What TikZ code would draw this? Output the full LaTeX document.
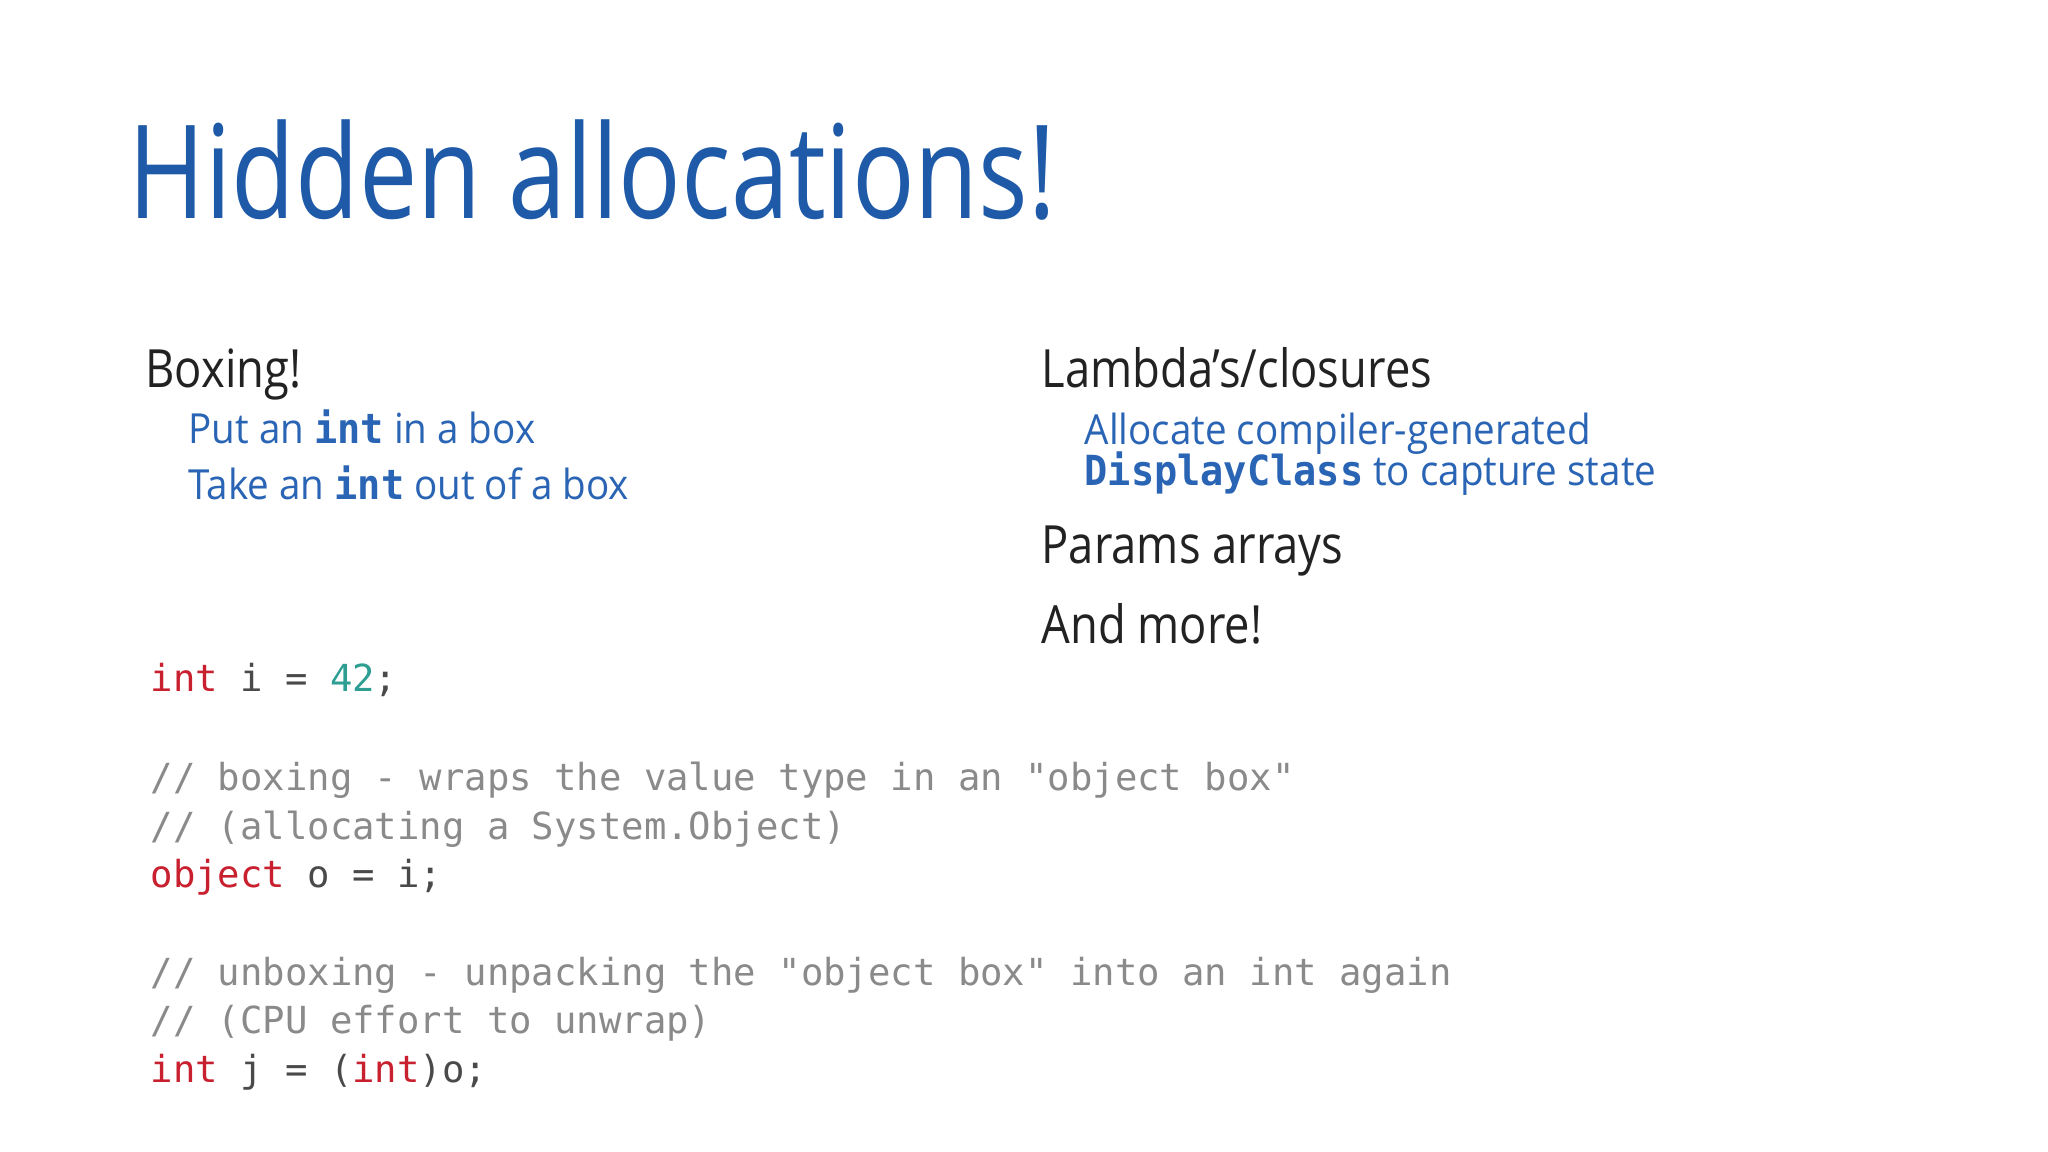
\documentclass[tikz,border=0pt]{standalone}
\usepackage{fontspec}
\setmainfont{Open Sans}
\setmonofont{DejaVu Sans Mono}
\definecolor{ttl}{HTML}{1E5AA8}
\definecolor{sub}{HTML}{2A64B4}
\definecolor{kw}{HTML}{C8202E}
\definecolor{num}{HTML}{2E9E92}
\definecolor{cmt}{HTML}{8A8A8A}
\definecolor{txt}{HTML}{222222}
\definecolor{code}{HTML}{4A4A4A}
\tikzset{
  lbl/.style={anchor=base west, inner sep=0pt},
  head/.style={lbl, text=txt, xscale=0.86, font=\fontsize{15}{18}\selectfont},
  subt/.style={lbl, text=sub, xscale=0.93, font=\fontsize{11.8}{14}\selectfont},
  cd/.style={lbl, text=code, font=\fontsize{10.6}{13}\ttfamily},
}
\newcommand{\kwd}[1]{\textcolor{kw}{#1}}
\newcommand{\cmtx}[1]{\textcolor{cmt}{#1}}
\newcommand{\bm}[1]{{\ttfamily\bfseries #1}}
\begin{document}
\begin{tikzpicture}[x=1cm,y=1cm]
\useasboundingbox[fill=white] (0,0) rectangle (20.48,11.52);
\node[lbl, text=ttl, xscale=0.8, font=\fontsize{37}{44}\selectfont] (title) at (1.28,9.33) {Hidden allocations!};
\node[head] (boxing) at (1.45,7.64) {Boxing!};
\node[subt] (put) at (1.88,7.08) {Put an \bm{int} in a box};
\node[subt] (take) at (1.88,6.52) {Take an \bm{int} out of a box};
\node[head] (lambda) at (10.41,7.64) {Lambda’s/closures};
\node[subt] (alloc) at (10.84,7.07) {Allocate compiler-generated};
\node[subt] (disp) at (10.84,6.66) {\bm{DisplayClass} to capture state};
\node[head] (params) at (10.41,5.88) {Params arrays};
\node[head] (more) at (10.41,5.08) {And more!};
\node[cd] (c1) at (1.50,4.60) {\kwd{int} i = \textcolor{num}{42};};
\node[cd] (c2) at (1.50,3.61) {\cmtx{// boxing - wraps the value type in an "object box"}};
\node[cd] (c3) at (1.50,3.12) {\cmtx{// (allocating a System.Object)}};
\node[cd] (c4) at (1.50,2.64) {\kwd{object} o = i;};
\node[cd] (c5) at (1.50,1.66) {\cmtx{// unboxing - unpacking the "object box" into an int again}};
\node[cd] (c6) at (1.50,1.18) {\cmtx{// (CPU effort to unwrap)}};
\node[cd] (c7) at (1.50,0.69) {\kwd{int} j = (\kwd{int})o;};
\end{tikzpicture}
\end{document}
